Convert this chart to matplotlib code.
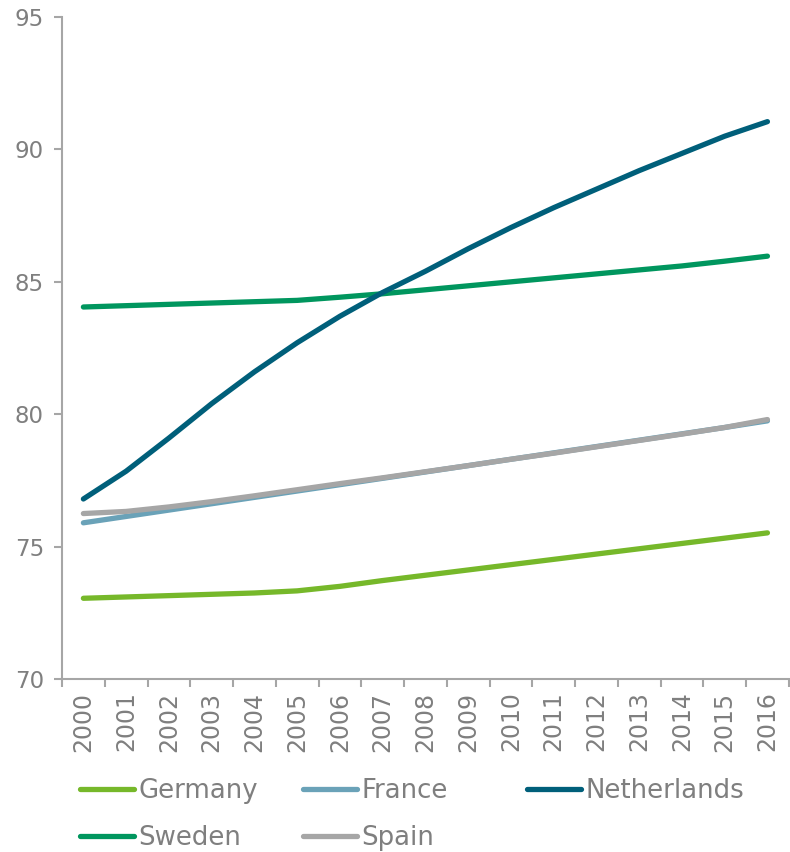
import matplotlib.pyplot as plt
import numpy as np

years = [str(y) for y in range(2000, 2017)]

germany = [73.05, 73.1, 73.15, 73.2, 73.25, 73.33, 73.5, 73.72, 73.92, 74.12,
           74.32, 74.52, 74.72, 74.92, 75.12, 75.32, 75.52]
france = [75.9, 76.14, 76.38, 76.62, 76.86, 77.1, 77.34, 77.58, 77.82, 78.06,
          78.3, 78.54, 78.78, 79.02, 79.26, 79.5, 79.75]
netherlands = [76.8, 77.85, 79.1, 80.4, 81.6, 82.7, 83.7, 84.6, 85.4, 86.25,
               87.05, 87.8, 88.5, 89.2, 89.85, 90.5, 91.05]
sweden = [84.05, 84.1, 84.15, 84.2, 84.25, 84.3, 84.42, 84.55, 84.7, 84.85,
          85.0, 85.15, 85.3, 85.45, 85.6, 85.78, 85.97]
spain = [76.25, 76.33, 76.5, 76.7, 76.92, 77.15, 77.38, 77.6, 77.83, 78.06,
         78.3, 78.53, 78.77, 79.01, 79.25, 79.5, 79.8]

grey = '#7f7f7f'
axis_grey = '#a6a6a6'

fig = plt.figure(figsize=(7.9, 8.52), dpi=100)
ax = fig.add_axes([0.0785, 0.203, 0.92, 0.777])

x = np.arange(len(years))
lw = 3.8
ln_de, = ax.plot(x, germany, color='#76b82a', lw=lw, solid_capstyle='round', label='Germany')
ln_se, = ax.plot(x, sweden, color='#00965e', lw=lw, solid_capstyle='round', label='Sweden')
ln_fr, = ax.plot(x, france, color='#6aa2b8', lw=lw, solid_capstyle='round', label='France')
ln_es, = ax.plot(x, spain, color='#a6a6a6', lw=lw, solid_capstyle='round', label='Spain')
ln_nl, = ax.plot(x, netherlands, color='#005f7a', lw=lw, solid_capstyle='round', label='Netherlands')

ax.set_xlim(-0.5, len(years) - 0.5)
ax.set_ylim(70, 95)
ax.set_yticks([70, 75, 80, 85, 90, 95])
ax.set_xticks(x)
ax.set_xticklabels(years, rotation=90)
ax.set_xticks(np.arange(-0.5, len(years)), minor=True)
ax.tick_params(axis='x', which='major', length=0, pad=9, labelsize=17, labelcolor=grey)
ax.tick_params(axis='x', which='minor', length=6, width=1.5, color=axis_grey)
ax.tick_params(axis='y', length=6, width=1.5, color=axis_grey, labelsize=16.5,
               labelcolor=grey, pad=7)

for s in ['top', 'right']:
    ax.spines[s].set_visible(False)
for s in ['left', 'bottom']:
    ax.spines[s].set_color(axis_grey)
    ax.spines[s].set_linewidth(1.5)

# legend: three fixed-width columns
columns = [([ln_de, ln_se], 0.101), ([ln_fr, ln_es], 0.383), ([ln_nl], 0.667)]
for handles, xpos in columns:
    leg = fig.legend(handles=handles, loc='upper left', bbox_to_anchor=(xpos, 0.087),
                     frameon=False, fontsize=18.7, handlelength=2.1, handletextpad=0.15,
                     labelspacing=0.82, borderpad=0, borderaxespad=0)
    for t in leg.get_texts():
        t.set_color(grey)

fig.savefig('out.png', dpi=100)
